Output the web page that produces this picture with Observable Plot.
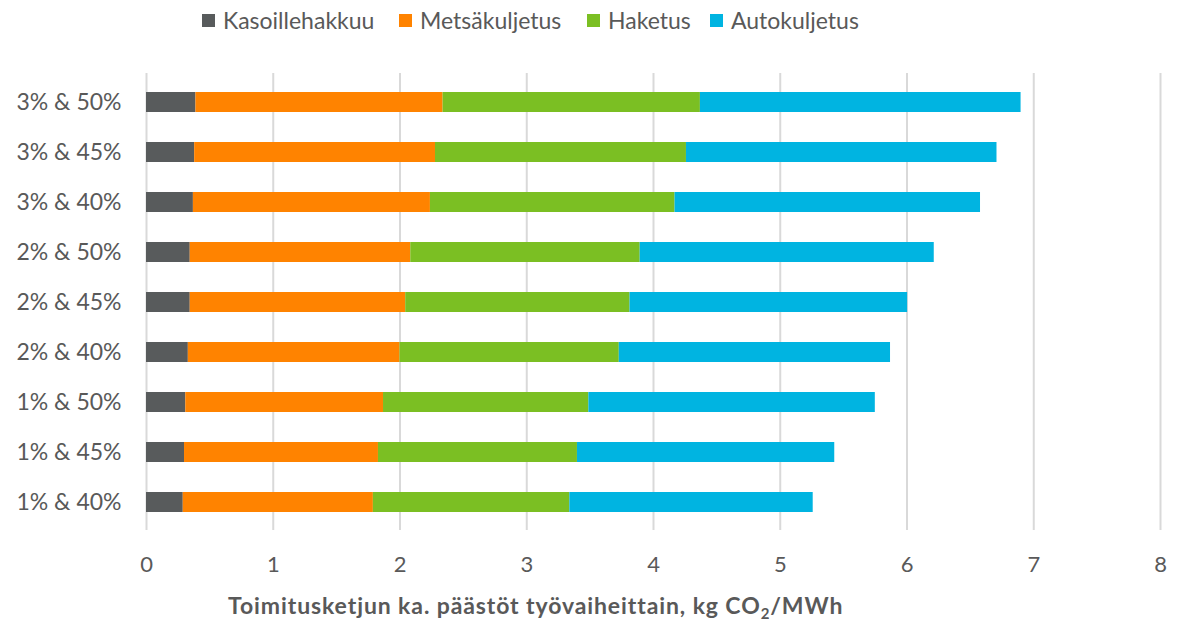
<!DOCTYPE html>
<html>
<head>
<meta charset="utf-8">
<script src="https://cdn.jsdelivr.net/npm/d3@7"></script>
<script src="https://cdn.jsdelivr.net/npm/@observablehq/plot@0.6"></script>
<style>
  html, body { margin: 0; padding: 0; background: #fff; }
  #wrap { position: relative; width: 1177px; height: 624px; font-family: Lato, "Open Sans", sans-serif; color: #595959; }
  #legend { position: absolute; left: 0; top: 4px; width: 1177px; height: 32px; font-size: 23px; }
  .item { position: absolute; top: 0; height: 32px; display: flex; align-items: center; white-space: nowrap; }
  .sw { width: 13px; height: 13px; margin-right: 8px; }
  #chart { position: absolute; left: 0; top: 40px; }
  #xtitle { position: absolute; left: 228px; top: 591px; font-size: 23px; font-weight: bold; letter-spacing: 0.9px; color: #595959; white-space: nowrap; }
  #xtitle sub { font-size: 15px; vertical-align: -5px; line-height: 0; }
</style>
</head>
<body>
<div id="wrap">
  <div id="legend"></div>
  <div id="chart"></div>
  <div id="xtitle">Toimitusketjun ka. päästöt työvaiheittain, kg CO<sub>2</sub>/MWh</div>
</div>
<script>
const categories = ["3% & 50%", "3% & 45%", "3% & 40%", "2% & 50%", "2% & 45%", "2% & 40%", "1% & 50%", "1% & 45%", "1% & 40%"];
const series = ["Kasoillehakkuu", "Metsäkuljetus", "Haketus", "Autokuljetus"];
const colors = ["#585b5c", "#ff8300", "#7bbf23", "#00b4e1"];
const kasoillehakkuu = [0.39, 0.38, 0.37, 0.345, 0.345, 0.33, 0.31, 0.30, 0.29];
const metsakuljetus  = [1.95, 1.90, 1.87, 1.74, 1.70, 1.67, 1.56, 1.53, 1.50];
const haketus        = [2.03, 1.98, 1.93, 1.81, 1.77, 1.73, 1.62, 1.57, 1.55];
const autokuljetus   = [2.53, 2.45, 2.41, 2.32, 2.19, 2.14, 2.26, 2.03, 1.92];
const xTicks = [0, 1, 2, 3, 4, 5, 6, 7, 8];
const legendLeft = [202, 399, 587, 710];

const seriesValues = [kasoillehakkuu, metsakuljetus, haketus, autokuljetus];
const data = categories.flatMap((c, i) => series.map((s, j) => ({category: c, series: s, value: seriesValues[j][i]})));

const legend = document.getElementById("legend");
series.forEach((s, j) => {
  const it = document.createElement("div");
  it.className = "item";
  it.style.left = legendLeft[j] + "px";
  it.innerHTML = `<div class="sw" style="background:${colors[j]}"></div><span>${s}</span>`;
  legend.appendChild(it);
});

const chart = Plot.plot({
  width: 1177,
  height: 584,
  marginLeft: 146,
  marginRight: 17,
  marginTop: 33,
  marginBottom: 94,
  style: {fontFamily: "Lato, 'Open Sans', sans-serif", fontSize: "23px", color: "#595959", background: "white"},
  x: {domain: [0, 8]},
  y: {domain: categories, paddingInner: 0.6, paddingOuter: 0.3},
  color: {domain: series, range: colors},
  marks: [
    Plot.gridX(xTicks, {stroke: "#d9d9d9", strokeOpacity: 1, strokeWidth: 2}),
    Plot.barX(data, Plot.stackX({x: "value", y: "category", fill: "series", order: series, inset: 0})),
    Plot.axisX(xTicks, {tickSize: 0, tickPadding: 26, fontSize: 22, tickFormat: d => String(d), label: null}),
    Plot.axisY({tickSize: 0, tickPadding: 25, fontSize: 23, label: null})
  ]
});
document.getElementById("chart").appendChild(chart);
</script>
</body>
</html>
